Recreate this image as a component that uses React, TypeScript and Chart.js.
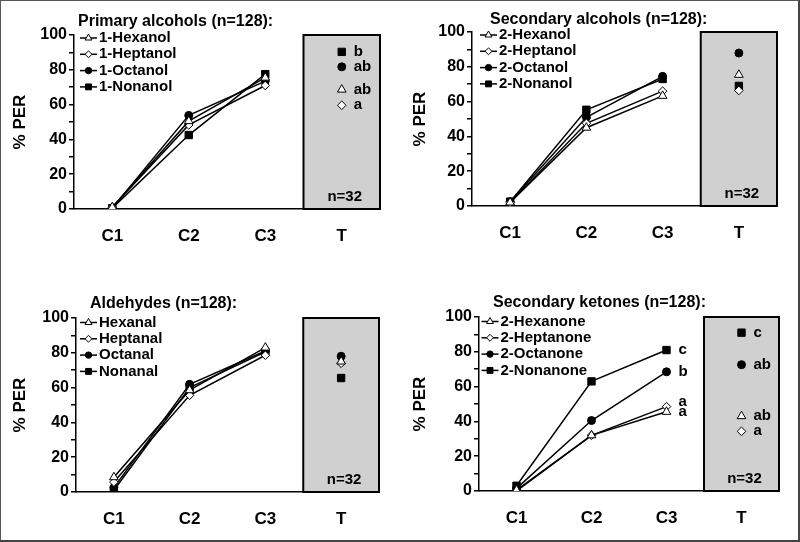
import React, { useEffect, useRef } from 'react';
import { Chart, registerables } from 'chart.js';
import { drawPoint } from 'chart.js/helpers';

Chart.register(...registerables);

const FONT = '"Liberation Sans", Arial, sans-serif';
Chart.defaults.font.family = FONT;

// ---------- data ----------
const categories = ['C1', 'C2', 'C3', 'T'];
const yTicks = [0, 20, 40, 60, 80, 100];
const boxLabel = 'n=32';

const primaryTitle = 'Primary alcohols (n=128):';
const primaryNames = ['1-Hexanol', '1-Heptanol', '1-Octanol', '1-Nonanol'];
const primaryHexanol = [1, 50.5, 75.5, 68.6];
const primaryHeptanol = [1, 48.3, 71, 59.6];
const primaryOctanol = [0.5, 53.8, 73.5, 81.7];
const primaryNonanol = [0.5, 42.5, 77.5, 90.3];
const primaryC3Letters: (string | null)[] = [null, null, null, null];
const primaryTLetters: (string | null)[] = ['ab', 'a', 'ab', 'b'];

const secondaryTitle = 'Secondary alcohols (n=128):';
const secondaryNames = ['2-Hexanol', '2-Heptanol', '2-Octanol', '2-Nonanol'];
const secondaryHexanol = [2, 45, 63.3, 75.4];
const secondaryHeptanol = [2, 47.5, 66, 66.4];
const secondaryOctanol = [2.5, 51, 74.5, 87.9];
const secondaryNonanol = [2.5, 55.3, 73, 69];
const secondaryC3Letters: (string | null)[] = [null, null, null, null];
const secondaryTLetters: (string | null)[] = [null, null, null, null];

const aldehydeTitle = 'Aldehydes (n=128):';
const aldehydeNames = ['Hexanal', 'Heptanal', 'Octanal', 'Nonanal'];
const aldehydeHexanal = [8.5, 58.5, 83, 75];
const aldehydeHeptanal = [5.7, 55.6, 78.6, 74];
const aldehydeOctanal = [2.5, 61.9, 81, 78];
const aldehydeNonanal = [1, 60, 80.5, 65.5];
const aldehydeC3Letters: (string | null)[] = [null, null, null, null];
const aldehydeTLetters: (string | null)[] = [null, null, null, null];

const ketoneTitle = 'Secondary ketones (n=128):';
const ketoneNames = ['2-Hexanone', '2-Heptanone', '2-Octanone', '2-Nonanone'];
const ketoneHexanone = [0.5, 32, 45.5, 43];
const ketoneHeptanone = [0, 32, 48.5, 34.3];
const ketoneOctanone = [1.5, 40.5, 68.5, 72.6];
const ketoneNonanone = [3, 63, 81, 91];
const ketoneC3Letters: (string | null)[] = ['a', 'a', 'b', 'c'];
const ketoneTLetters: (string | null)[] = ['ab', 'a', 'ab', 'c'];

// ---------- styles ----------
const STYLES = ['triangle', 'rectRot', 'circle', 'rect'];
const FILLS = ['#ffffff', '#ffffff', '#000000', '#000000'];
const RADII = [5, 4.3, 4, 5.2];

type Area = { left: number; top: number; right: number; bottom: number };
type PanelCfg = {
  x: number;
  y: number;
  area: Area;
  title: string;
  titleX: number;
  titleY: number;
  legendX: number;
  legendY: number;
  names: string[];
  values: number[][];
  c3Letters: (string | null)[];
  tLetters: (string | null)[];
};

const panels: PanelCfg[] = [
  {
    x: 0, y: 0, area: { left: 74, top: 35, right: 380, bottom: 209 },
    title: primaryTitle, titleX: 78, titleY: 21.5, legendX: 80, legendY: 38,
    names: primaryNames,
    values: [primaryHexanol, primaryHeptanol, primaryOctanol, primaryNonanol],
    c3Letters: primaryC3Letters, tLetters: primaryTLetters,
  },
  {
    x: 400, y: 0, area: { left: 72, top: 32, right: 377, bottom: 206 },
    title: secondaryTitle, titleX: 90, titleY: 20, legendX: 80, legendY: 35,
    names: secondaryNames,
    values: [secondaryHexanol, secondaryHeptanol, secondaryOctanol, secondaryNonanol],
    c3Letters: secondaryC3Letters, tLetters: secondaryTLetters,
  },
  {
    x: 0, y: 271, area: { left: 76, top: 47, right: 379, bottom: 221 },
    title: aldehydeTitle, titleX: 90, titleY: 32.5, legendX: 80, legendY: 51.5,
    names: aldehydeNames,
    values: [aldehydeHexanal, aldehydeHeptanal, aldehydeOctanal, aldehydeNonanal],
    c3Letters: aldehydeC3Letters, tLetters: aldehydeTLetters,
  },
  {
    x: 400, y: 271, area: { left: 79, top: 46, right: 379, bottom: 220 },
    title: ketoneTitle, titleX: 93, titleY: 32, legendX: 81.5, legendY: 50.5,
    names: ketoneNames,
    values: [ketoneHexanone, ketoneHeptanone, ketoneOctanone, ketoneNonanone],
    c3Letters: ketoneC3Letters, tLetters: ketoneTLetters,
  },
];

const W = 400;
const H = 271;
const XH = 40;

function Panel({ cfg }: { cfg: PanelCfg }) {
  const ref = useRef<HTMLCanvasElement>(null);
  useEffect(() => {
    const A = cfg.area;

    const boxPlugin = {
      id: 'tbox',
      beforeDatasetsDraw(chart: any) {
        const { ctx, chartArea, scales } = chart;
        const xs = scales.x;
        const ys = scales.y;
        const cw = (chartArea.right - chartArea.left) / categories.length;
        const xL = xs.getPixelForValue(3) - cw / 2;
        const yT = ys.getPixelForValue(100);
        const yB = ys.getPixelForValue(0);
        ctx.save();
        ctx.fillStyle = '#d0d0d0';
        ctx.fillRect(xL, yT, chartArea.right - xL, yB - yT);
        ctx.strokeStyle = '#000';
        ctx.lineWidth = 2;
        ctx.strokeRect(xL, yT, chartArea.right - xL, yB - yT);
        ctx.fillStyle = '#000';
        ctx.font = `bold 15px ${FONT}`;
        ctx.textAlign = 'center';
        ctx.textBaseline = 'middle';
        ctx.fillText(boxLabel, (xL + chartArea.right) / 2 + 3, yB - 12);
        ctx.restore();
      },
    };

    const overlayPlugin = {
      id: 'overlay',
      afterDatasetsDraw(chart: any) {
        const { ctx, scales } = chart;
        ctx.save();
        // title
        ctx.fillStyle = '#000';
        ctx.font = `bold 16px ${FONT}`;
        ctx.textAlign = 'left';
        ctx.textBaseline = 'middle';
        ctx.fillText(cfg.title, cfg.titleX, cfg.titleY);
        // legend
        cfg.names.forEach((name, i) => {
          const y = cfg.legendY + i * 16.3;
          const x0 = cfg.legendX;
          ctx.strokeStyle = '#000';
          ctx.lineWidth = 1.5;
          ctx.beginPath();
          ctx.moveTo(x0, y);
          ctx.lineTo(x0 + 17, y);
          ctx.stroke();
          ctx.fillStyle = FILLS[i];
          ctx.strokeStyle = '#000';
          ctx.lineWidth = 1;
          drawPoint(ctx, { pointStyle: STYLES[i] as any, radius: RADII[i] * 0.8, borderWidth: 1, rotation: 0 }, x0 + 8.5, y);
          ctx.fillStyle = '#000';
          ctx.font = `bold 15px ${FONT}`;
          ctx.textAlign = 'left';
          ctx.textBaseline = 'middle';
          ctx.fillText(name, x0 + 19, y);
        });
        // significance letters
        const drawLetters = (letters: (string | null)[], idx: number) => {
          const items = letters
            .map((l, i) => ({ l, y: scales.y.getPixelForValue(cfg.values[i][idx]) }))
            .filter((it) => it.l);
          items.sort((a, b) => a.y - b.y);
          for (let i = items.length - 2; i >= 0; i--) {
            if (items[i + 1].y - items[i].y < 10) items[i].y = items[i + 1].y - 10;
          }
          const x = scales.x.getPixelForValue(idx) + 12;
          ctx.fillStyle = '#000';
          ctx.font = `bold 15px ${FONT}`;
          ctx.textAlign = 'left';
          ctx.textBaseline = 'middle';
          items.forEach((it) => ctx.fillText(it.l as string, x, it.y));
        };
        drawLetters(cfg.c3Letters, 2);
        drawLetters(cfg.tLetters, 3);
        ctx.restore();
      },
    };

    const chart = new Chart(ref.current as HTMLCanvasElement, {
      type: 'line',
      data: {
        labels: categories,
        datasets: cfg.values.map((vals, i) => ({
          label: cfg.names[i],
          data: vals,
          borderColor: '#000',
          borderWidth: 1.5,
          pointStyle: STYLES[i] as any,
          pointRadius: RADII[i],
          pointBackgroundColor: FILLS[i],
          pointBorderColor: '#000',
          pointBorderWidth: 1,
          tension: 0,
          fill: false,
          segment: {
            borderColor: (c: any) => (c.p1DataIndex === 3 ? 'rgba(0,0,0,0)' : '#000'),
          },
        })),
      },
      options: {
        animation: false,
        responsive: false,
        devicePixelRatio: 1,
        layout: {
          padding: { left: 0, top: A.top, right: W - A.right, bottom: H - A.bottom - XH },
        },
        plugins: {
          legend: { display: false },
          tooltip: { enabled: false },
          title: { display: false },
        },
        scales: {
          x: {
            type: 'category',
            offset: true,
            grid: { display: false, drawTicks: false },
            border: { display: true, color: '#000', width: 1.5 },
            ticks: {
              color: '#000',
              font: { size: 17, weight: 'bold' },
              padding: 17,
              autoSkip: false,
              maxRotation: 0,
            },
            afterFit: (s: any) => {
              s.height = XH;
            },
          },
          y: {
            min: 0,
            max: 100,
            ticks: {
              stepSize: 10,
              autoSkip: false,
              callback: (v: any) => (yTicks.includes(Number(v)) ? String(v) : ''),
              color: '#000',
              font: { size: 16, weight: 'bold' },
              padding: 2,
            },
            grid: { drawOnChartArea: false, drawTicks: true, tickLength: 5, color: '#000', lineWidth: 1.5 },
            border: { display: true, color: '#000', width: 1.5 },
            title: {
              display: true,
              text: '% PER',
              color: '#000',
              font: { size: 17, weight: 'bold' },
              padding: { top: 10, bottom: 0 },
            },
            afterFit: (s: any) => {
              s.width = A.left;
            },
          },
        },
      } as any,
      plugins: [boxPlugin, overlayPlugin],
    });
    return () => chart.destroy();
  }, [cfg]);

  return (
    <canvas
      ref={ref}
      width={W}
      height={H}
      style={{ position: 'absolute', left: cfg.x, top: cfg.y, width: W, height: H, display: 'block' }}
    />
  );
}

export default function App() {
  return (
    <div style={{ position: 'absolute', left: 0, top: 0, width: 800, height: 542, background: '#fff', overflow: 'hidden' }}>
      {panels.map((p, i) => (
        <Panel key={i} cfg={p} />
      ))}
      <div
        style={{
          position: 'absolute',
          left: 0,
          top: 0,
          width: 800,
          height: 542,
          boxSizing: 'border-box',
          borderLeft: '1px solid #555',
          borderTop: '1px solid #555',
          borderRight: '2px solid #444',
          borderBottom: '2px solid #444',
          pointerEvents: 'none',
        }}
      />
    </div>
  );
}
